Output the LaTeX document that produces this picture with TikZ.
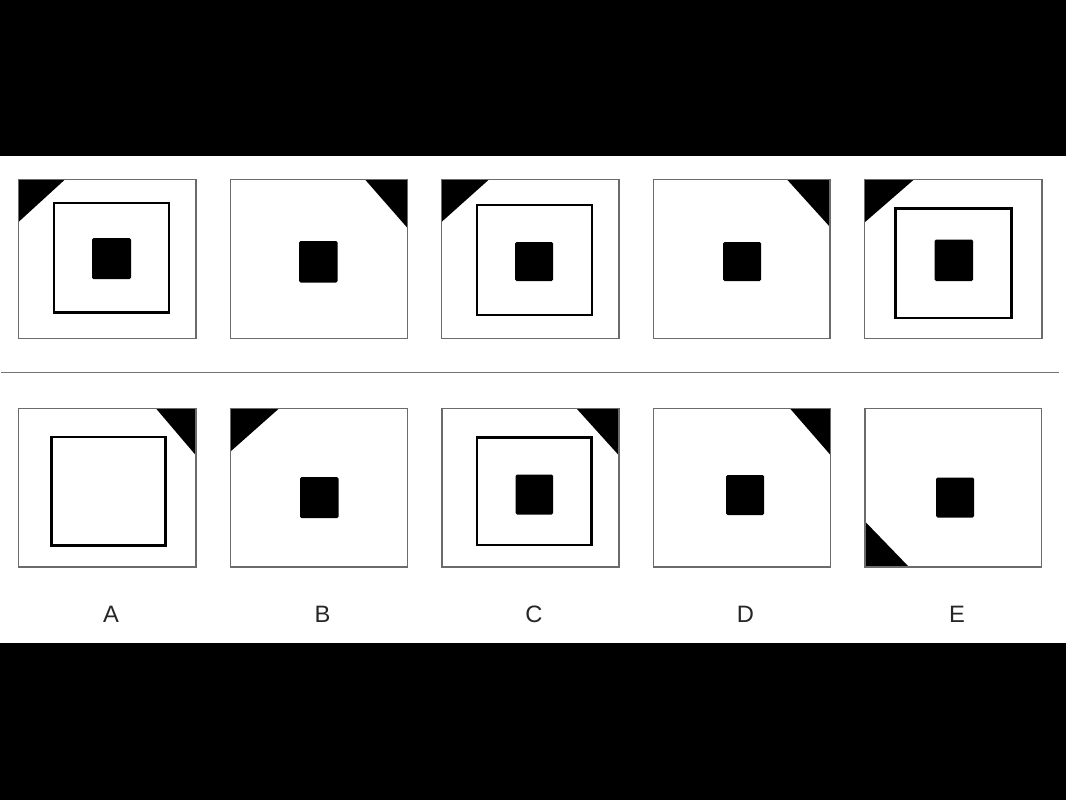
\documentclass[tikz,border=0pt]{standalone}
\usepackage{fontspec}
\setmainfont{Liberation Sans}
\begin{document}
\begin{tikzpicture}[x=1pt,y=-1pt,
  outerbox/.style={draw=black!58,line width=1.3pt},
  innerbox/.style={draw=black,line width=2.4pt},
  blob/.style={fill=black,rounded corners=1.5pt},
  corner/.style={fill=black},
  sep/.style={draw=black!55,line width=1.4pt},
  lab/.style={font=\fontsize{23.7}{28}\selectfont,text=black!85,inner sep=0pt,anchor=center}]
\useasboundingbox (0,0) rectangle (1066,800);
\fill[black] (0,0) rectangle (1066,800);
\fill[white] (0,156) rectangle (1066,643);
% ---------- top row ----------
% 1
\fill[corner] (18.5,179.5) -- (65,179.5) -- (18.5,222) -- cycle;
\draw[outerbox] (18.5,179.5) rectangle (196,338.5);
\draw[innerbox] (54,203) rectangle (169,312.5);
\fill[blob] (92,238) rectangle (131,279);
% 2
\fill[corner] (365,179.5) -- (407.5,179.5) -- (407.5,228) -- cycle;
\draw[outerbox] (230.5,179.5) rectangle (407.5,338.5);
\fill[blob] (299,241) rectangle (337.5,282.5);
% 3
\fill[corner] (441.5,179.5) -- (489,179.5) -- (441.5,222) -- cycle;
\draw[outerbox] (441.5,179.5) rectangle (619,338.5);
\draw[innerbox] (477,205) rectangle (592,315);
\fill[blob] (515,242) rectangle (553,281);
% 4
\fill[corner] (787,179.5) -- (830,179.5) -- (830,227) -- cycle;
\draw[outerbox] (653.5,179.5) rectangle (830,338.5);
\fill[blob] (723,242) rectangle (761,281);
% 5
\fill[corner] (864.5,179.5) -- (914,179.5) -- (864.5,222.5) -- cycle;
\draw[outerbox] (864.5,179.5) rectangle (1042,338.5);
\draw[innerbox] (895.5,208.5) rectangle (1011.5,318);
\fill[blob] (934.5,239.5) rectangle (973,281);
% separator
\draw[sep] (1,372.5) -- (1059,372.5);
% ---------- bottom row ----------
% A
\fill[corner] (156,408.5) -- (196,408.5) -- (196,455.5) -- cycle;
\draw[outerbox] (18.5,408.5) rectangle (196,567);
\draw[innerbox] (51.5,437) rectangle (165.5,545.5);
% B
\fill[corner] (230.5,408.5) -- (279,408.5) -- (230.5,451.5) -- cycle;
\draw[outerbox] (230.5,408.5) rectangle (407.5,567);
\fill[blob] (300,477) rectangle (338.5,518);
% C
\fill[corner] (576.5,408.5) -- (619,408.5) -- (619,455.5) -- cycle;
\draw[outerbox] (442,408.5) rectangle (619,567);
\draw[innerbox] (477,437.5) rectangle (591.5,545);
\fill[blob] (515.5,474.5) rectangle (553,514.5);
% D
\fill[corner] (790,408.5) -- (830.5,408.5) -- (830.5,455) -- cycle;
\draw[outerbox] (653.5,408.5) rectangle (830.5,567);
\fill[blob] (726,475) rectangle (764,515);
% E
\fill[corner] (865,521.5) -- (909,567) -- (865,567) -- cycle;
\draw[outerbox] (865,408.5) rectangle (1041.5,567);
\fill[blob] (936,477.5) rectangle (974,517.5);
% labels
\node[lab] (la) at (111,614) {A};
\node[lab] (lb) at (322.5,614) {B};
\node[lab] (lc) at (534,614) {C};
\node[lab] (ld) at (745.5,614) {D};
\node[lab] (le) at (957,614) {E};
\end{tikzpicture}
\end{document}
